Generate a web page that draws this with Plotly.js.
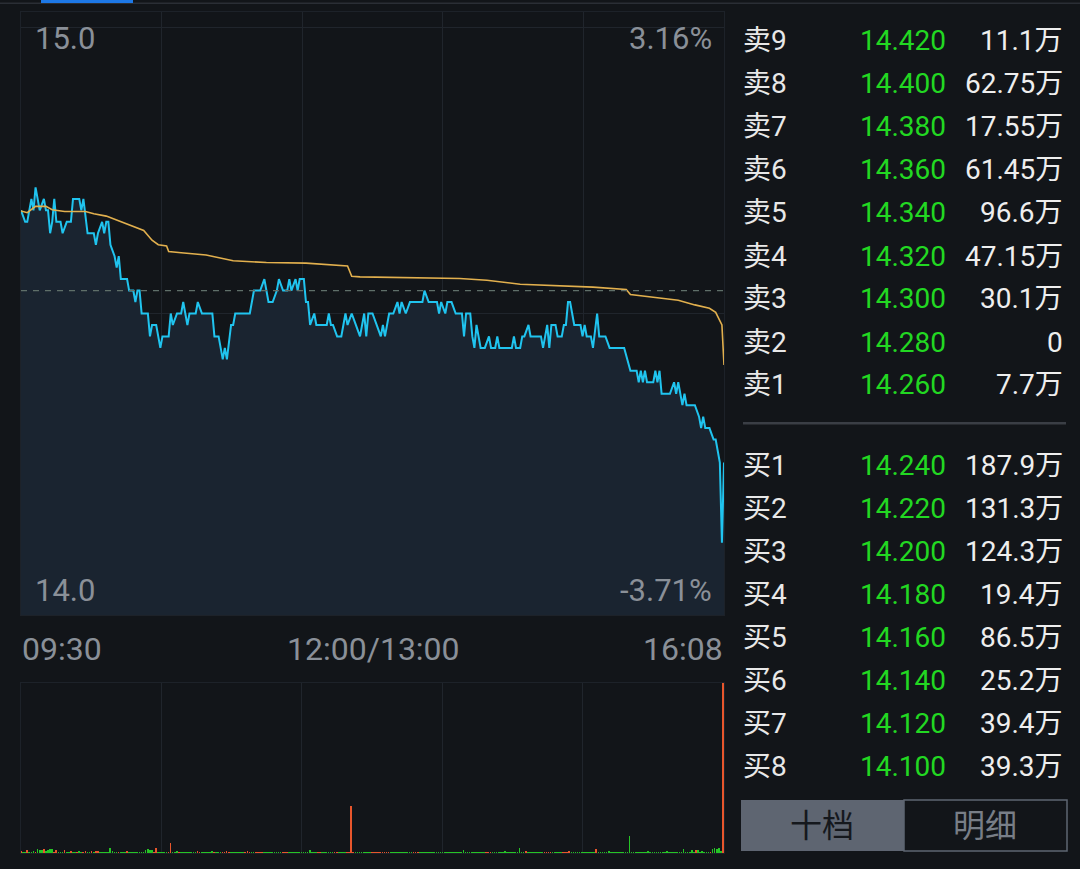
<!DOCTYPE html>
<html>
<head>
<meta charset="utf-8">
<script src="https://cdn.plot.ly/plotly-3.0.1.min.js"></script>
<style>
html,body{margin:0;padding:0;background:#121519;}
#chart{width:1080px;height:869px;}
</style>
</head>
<body>
<div id="chart"></div>
<script>
// ---- price line (minute index from 09:30, price) ----
const priceMin = [0,2,3,4,5,6,7,8,9,11,12,13,14,15,16,17,19,20,22,24,25,28,29,30,32,35,36,37,39,40,41,42,43,45,46,47,48,51,52,54,55,56,57,58,61,62,63,65,66,67,68,71,72,73,75,77,78,80,81,84,85,87,92,93,95,97,98,99,101,102,103,110,112,115,117,119,121,123,124,126,128,129,130,132,133,134,136,137,138,139,141,142,147,148,149,150,152,154,155,156,157,159,161,163,165,166,167,169,171,173,174,175,177,179,181,182,183,185,187,193,194,196,200,201,202,204,205,207,209,212,213,214,216,217,218,219,221,223,225,226,228,229,230,236,237,238,240,241,242,244,245,250,251,253,254,255,257,258,260,261,262,263,264,266,269,270,271,272,274,275,277,278,281,283,290,293,296,297,298,299,300,301,304,305,306,307,308,312,314,315,316,318,319,320,324,326,327,328,329,331,333,334,335,336,337,338];
const priceVal = [14.68,14.66,14.66,14.68,14.70,14.68,14.72,14.70,14.68,14.70,14.68,14.68,14.64,14.66,14.70,14.66,14.66,14.64,14.66,14.66,14.70,14.70,14.68,14.70,14.64,14.64,14.62,14.64,14.66,14.64,14.66,14.66,14.62,14.60,14.58,14.60,14.56,14.56,14.54,14.54,14.52,14.54,14.54,14.50,14.50,14.46,14.48,14.48,14.46,14.44,14.46,14.46,14.50,14.48,14.50,14.50,14.52,14.48,14.50,14.50,14.52,14.50,14.50,14.46,14.46,14.42,14.44,14.42,14.48,14.48,14.50,14.50,14.54,14.54,14.56,14.52,14.52,14.54,14.56,14.54,14.54,14.56,14.54,14.56,14.54,14.56,14.56,14.52,14.52,14.48,14.50,14.48,14.48,14.50,14.48,14.48,14.46,14.46,14.48,14.50,14.48,14.50,14.48,14.46,14.50,14.46,14.50,14.50,14.48,14.46,14.48,14.46,14.50,14.50,14.52,14.50,14.52,14.50,14.52,14.52,14.54,14.52,14.52,14.50,14.52,14.50,14.52,14.52,14.50,14.50,14.46,14.50,14.50,14.46,14.44,14.48,14.44,14.44,14.46,14.44,14.44,14.46,14.44,14.44,14.46,14.44,14.44,14.46,14.46,14.48,14.46,14.46,14.44,14.48,14.44,14.48,14.48,14.46,14.46,14.48,14.48,14.52,14.52,14.48,14.48,14.46,14.48,14.46,14.46,14.44,14.50,14.46,14.46,14.44,14.44,14.40,14.40,14.38,14.40,14.38,14.40,14.38,14.38,14.40,14.38,14.40,14.36,14.36,14.38,14.36,14.38,14.34,14.36,14.34,14.34,14.32,14.30,14.32,14.30,14.30,14.28,14.28,14.26,14.24,14.10,14.24];

// ---- average price line ----
const avgMin = [0,3,7,12,15,21,31,35,41,47,53,59,63,66,70,71,77,89,102,118,137,157,159,163,211,224,240,259,275,291,293,307,316,324,331,334,336,337,338];
const avgVal = [14.679,14.676,14.687,14.687,14.681,14.678,14.678,14.674,14.670,14.662,14.654,14.645,14.628,14.620,14.618,14.608,14.606,14.602,14.592,14.589,14.588,14.583,14.565,14.564,14.561,14.558,14.551,14.548,14.546,14.542,14.533,14.527,14.523,14.515,14.509,14.502,14.489,14.480,14.410];

// ---- volume per minute (relative), direction 1 = up (red), 0 = down (green) ----
const volume = [
2,1,1,3,1,1,2,1,4,3,3,4,2,3,4,4,1,3,1,1,
1,3,1,1,2,1,1,1,2,1,1,2,1,1,2,1,2,2,1,1,
1,1,1,5,2,1,1,1,1,1,1,2,1,1,1,1,1,1,1,1,
3,4,3,3,1,5,1,1,1,1,1,1,10,1,1,2,1,1,1,1,
1,1,1,1,1,2,1,1,1,1,1,1,2,1,1,1,1,1,1,2,
1,1,1,1,1,1,1,1,1,2,1,1,1,1,1,1,1,1,1,1,
1,1,1,1,1,1,1,1,1,1,1,1,1,1,1,1,1,1,1,3,
1,1,1,1,1,1,1,1,1,1,1,1,1,1,1,1,1,1,1,47,
1,1,1,1,1,1,1,1,1,1,1,1,1,1,1,1,1,1,1,1,
1,1,1,1,1,1,1,1,1,1,1,1,1,1,1,1,1,1,1,1,
1,1,1,1,1,1,1,1,1,1,1,1,1,3,1,1,1,1,1,1,
1,1,1,1,1,1,1,1,1,1,1,1,1,2,1,1,1,1,1,1,
5,1,1,2,1,1,1,1,1,1,1,1,1,1,1,1,1,1,1,1,
1,1,1,1,2,1,1,1,1,1,1,1,1,1,1,1,1,4,1,1,
1,1,1,2,1,1,1,1,1,1,1,1,1,17,1,1,1,1,1,1,
1,1,2,1,1,1,1,1,1,1,1,2,1,1,1,1,1,1,1,4,
1,1,1,3,1,3,3,1,2,1,1,1,1,4,5,4,5,2,170];
const volDir = [
1,0,0,1,0,0,0,1,0,0,0,1,0,0,0,0,1,1,0,0,
0,1,0,0,1,0,0,1,0,0,1,1,0,0,1,0,1,1,0,0,
0,0,0,0,0,0,0,1,0,0,0,1,0,0,0,0,0,0,0,0,
0,0,0,0,1,1,0,0,0,0,0,1,1,0,0,0,1,0,0,0,
0,0,0,0,0,1,1,0,0,0,0,0,0,1,0,0,0,1,1,1,
1,0,0,0,0,0,0,0,1,1,1,0,0,1,1,1,1,0,0,0,
0,0,0,0,0,0,1,1,1,0,0,0,0,0,0,0,0,0,0,0,
0,0,0,1,1,0,0,0,0,0,0,1,1,0,0,0,0,1,1,1,
1,0,0,0,0,0,0,0,0,1,1,1,1,1,1,1,1,1,0,0,
0,0,0,0,0,0,0,0,0,1,1,1,0,0,0,0,0,0,0,0,
0,0,0,0,0,0,0,0,0,0,0,0,0,0,0,0,0,0,0,0,
0,0,0,0,1,1,1,0,0,0,0,0,0,0,0,0,0,0,0,0,
0,0,0,1,0,0,0,0,0,0,0,0,1,1,1,1,0,0,0,0,
0,1,1,1,1,0,0,0,0,0,0,0,0,0,0,0,0,1,0,0,
0,0,0,0,0,0,0,0,0,0,0,0,0,0,0,0,0,0,0,0,
0,0,0,0,0,0,0,0,0,0,0,0,0,0,0,0,0,0,0,0,
0,0,0,0,0,1,0,0,0,0,0,0,1,0,0,0,0,0,1];

const prevClose = 14.54;
const priceTickVals = [14.0, 14.5, 15.0];
const priceLabels = {top: '15.0', bottom: '14.0', topPct: '3.16%', bottomPct: '-3.71%'};
const timeLabels = ['09:30', '12:00/13:00', '16:08'];
const sessionMinutes = 338;

// ---- order book ----
const askLabels = ['卖9','卖8','卖7','卖6','卖5','卖4','卖3','卖2','卖1'];
const askPrices = ['14.420','14.400','14.380','14.360','14.340','14.320','14.300','14.280','14.260'];
const askVols   = ['11.1万','62.75万','17.55万','61.45万','96.6万','47.15万','30.1万','0','7.7万'];
const bidLabels = ['买1','买2','买3','买4','买5','买6','买7','买8'];
const bidPrices = ['14.240','14.220','14.200','14.180','14.160','14.140','14.120','14.100'];
const bidVols   = ['187.9万','131.3万','124.3万','19.4万','86.5万','25.2万','39.4万','39.3万'];
const tabLabels = ['十档','明细'];

// ---- helpers (layout positioning in page pixels) ----
const W = 1080, H = 869;
const px = x => x / W;
const py = y => 1 - y / H;
const FONT = 'Roboto, "Noto Sans CJK SC", sans-serif';
const GRID = '#20252c';
const LABEL = '#8a9098';

const xGrid = [0,1,2,3,4,5].map(i => sessionMinutes * i / 5);

const traces = [
  {
    x: priceMin, y: priceVal, type: 'scatter', mode: 'lines',
    line: {color: '#20c4ef', width: 2}, fill: 'tozeroy', fillcolor: '#1a2430',
    xaxis: 'x', yaxis: 'y', hoverinfo: 'skip'
  },
  {
    x: avgMin, y: avgVal, type: 'scatter', mode: 'lines',
    line: {color: '#e2b04e', width: 1.6}, xaxis: 'x', yaxis: 'y', hoverinfo: 'skip'
  },
  {
    x: volume.map((v, i) => i), y: volume, type: 'bar', width: 0.8,
    marker: {color: volDir.map(d => d ? '#e8562c' : '#26c426'), line: {width: 0}},
    xaxis: 'x2', yaxis: 'y2', hoverinfo: 'skip'
  }
];

const annotations = [];
function ann(text, x, y, anchor, color, size) {
  annotations.push({text, x: px(x), y: py(y), xref: 'paper', yref: 'paper',
    xanchor: anchor, yanchor: 'middle', showarrow: false,
    font: {family: FONT, size, color}});
}
// price axis labels
ann(priceLabels.top, 33, 39, 'left', LABEL, 31);
ann(priceLabels.topPct, 714, 39, 'right', LABEL, 31);
ann(priceLabels.bottom, 33, 590, 'left', LABEL, 31);
ann(priceLabels.bottomPct, 714, 590, 'right', LABEL, 31);
// time labels
ann(timeLabels[0], 20, 649, 'left', LABEL, 32);
ann(timeLabels[1], 373, 649, 'center', LABEL, 32);
ann(timeLabels[2], 725, 649, 'right', LABEL, 32);
// order book
askLabels.forEach((l, i) => {
  const y = 41 + i * 43;
  ann(l, 741, y, 'left', '#e8e8e8', 28);
  ann(askPrices[i], 948, y, 'right', '#22d822', 28);
  ann(askVols[i], 1065, y, 'right', '#eeeeee', 28);
});
bidLabels.forEach((l, i) => {
  const y = 465 + i * 43;
  ann(l, 741, y, 'left', '#e8e8e8', 28);
  ann(bidPrices[i], 948, y, 'right', '#22d822', 28);
  ann(bidVols[i], 1065, y, 'right', '#eeeeee', 28);
});
ann(tabLabels[0], 822, 826, 'center', '#15181d', 32);
ann(tabLabels[1], 985, 826, 'center', '#787e87', 32);

const shapes = [
  // top strip
  {type: 'rect', xref: 'paper', yref: 'paper', x0: px(0), x1: px(1080), y0: py(4), y1: py(2.5), fillcolor: '#2a2e35', line: {width: 0}},
  {type: 'rect', xref: 'paper', yref: 'paper', x0: px(41), x1: px(133), y0: py(3), y1: py(0), fillcolor: '#1d78e6', line: {width: 0}},
  // previous close dashed line
  {type: 'line', xref: 'x', yref: 'y', x0: 0, x1: sessionMinutes, y0: prevClose, y1: prevClose,
   line: {color: '#5f6f69', width: 1.2, dash: '6px,6px'}},
  // order book separator
  {type: 'rect', xref: 'paper', yref: 'paper', x0: px(743), x1: px(1066), y0: py(424.5), y1: py(422), fillcolor: '#3a3e45', line: {width: 0}},
  // tabs
  {type: 'rect', xref: 'paper', yref: 'paper', x0: px(741), x1: px(904), y0: py(851), y1: py(800), fillcolor: '#5e6571', line: {width: 0}},
  {type: 'rect', xref: 'paper', yref: 'paper', x0: px(904), x1: px(1067), y0: py(851), y1: py(800), fillcolor: '#121519', line: {color: '#5e6571', width: 1.5}}
];

const layout = {
  width: W, height: H,
  margin: {l: 0, r: 0, t: 0, b: 0},
  paper_bgcolor: '#121519', plot_bgcolor: '#121519',
  showlegend: false,
  font: {family: FONT},
  xaxis: {domain: [px(21), px(724)], range: [0, sessionMinutes], anchor: 'y',
    tickvals: xGrid, showticklabels: false, ticks: '', showgrid: true, gridcolor: GRID, gridwidth: 1,
    zeroline: false, showline: true, mirror: true, linecolor: '#1d2229', linewidth: 1, fixedrange: true},
  yaxis: {domain: [py(615), py(12)], range: [14 - 15/573, 15 + 15/573], anchor: 'x',
    tickvals: priceTickVals, showticklabels: false, ticks: '', showgrid: true, gridcolor: GRID, gridwidth: 1,
    zeroline: false, showline: true, mirror: true, linecolor: '#1d2229', linewidth: 1, fixedrange: true},
  xaxis2: {domain: [px(21), px(724)], range: [0, sessionMinutes + 0.5], anchor: 'y2',
    tickvals: xGrid, showticklabels: false, ticks: '', showgrid: true, gridcolor: GRID, gridwidth: 1,
    zeroline: false, showline: true, mirror: true, linecolor: '#1d2229', linewidth: 1, fixedrange: true},
  yaxis2: {domain: [py(853), py(683)], range: [0, 170], anchor: 'x2',
    showticklabels: false, ticks: '', showgrid: false, zeroline: false,
    showline: true, mirror: true, linecolor: '#1d2229', linewidth: 1, fixedrange: true},
  bargap: 0,
  shapes, annotations
};

Plotly.newPlot('chart', traces, layout, {staticPlot: true, displayModeBar: false});
</script>
</body>
</html>
